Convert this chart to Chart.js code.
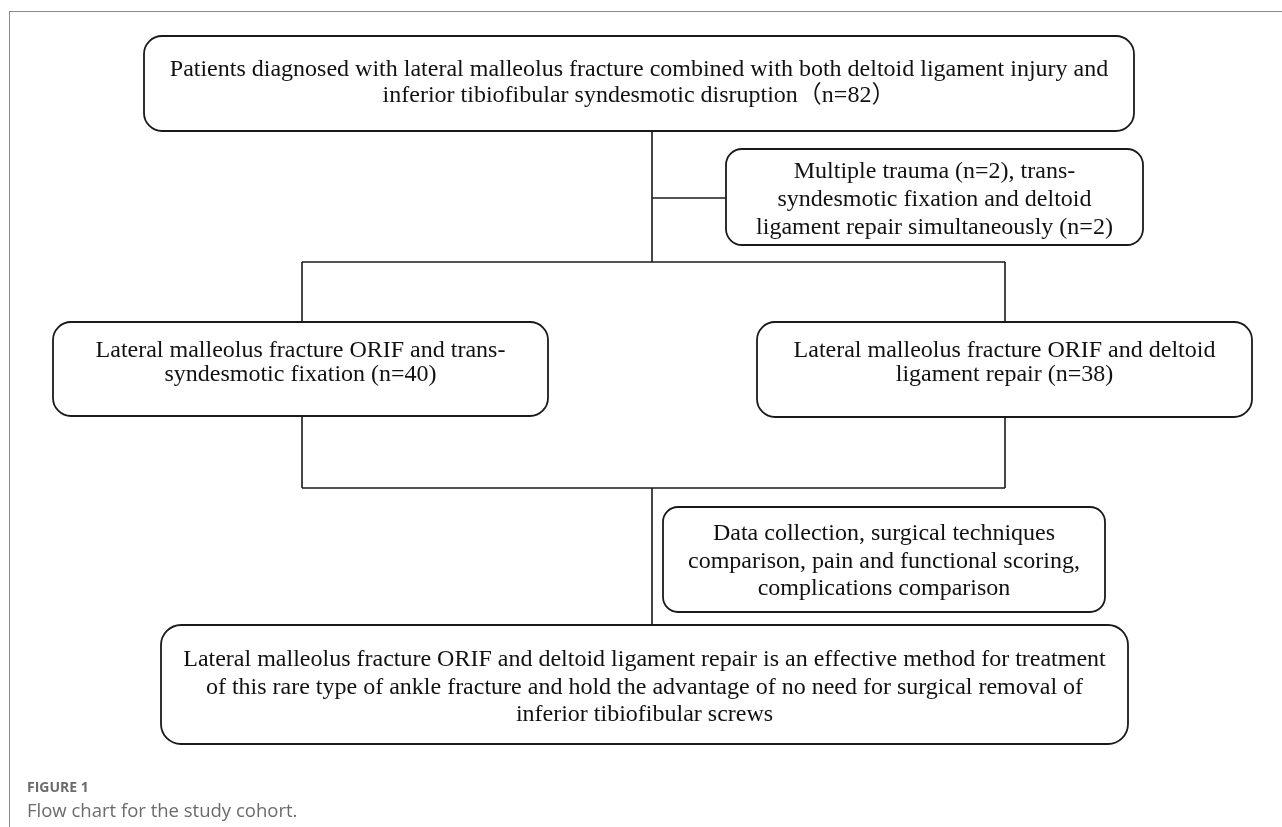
<!DOCTYPE html>
<html>
<head>
<meta charset="utf-8">
<title>Flow chart for the study cohort</title>
<script src="https://cdn.jsdelivr.net/npm/chart.js@4"></script>
<style>
    body { margin: 0; background: #fff; }
    #wrap { position: relative; width: 1282px; height: 827px; overflow: hidden; }
    #frame {
        position: absolute; left: 9px; top: 11px; right: 0; bottom: 0;
        border-top: 1px solid #8a8a8a; border-left: 1px solid #8a8a8a;
    }
    canvas { position: absolute; left: 0; top: 0; }
    .caption { position: absolute; left: 27px; color: #6b6b6b; font-family: "Open Sans", sans-serif; white-space: nowrap; }
    #figno { top: 777px; font-size: 14px; font-weight: 700; }
    #figtitle { top: 797px; font-size: 18.5px; }
</style>
</head>
<body>
<div id="wrap">
    <div id="frame"></div>
    <canvas id="flow" width="1282" height="827"></canvas>
    <div class="caption" id="figno">FIGURE 1</div>
    <div class="caption" id="figtitle">Flow chart for the study cohort.</div>
</div>
<script>
// ============================================
// DATA - cohort counts and box texts
// ============================================
const totalPatients = 82;
const excludedCounts = [2, 2];       // multiple trauma, both procedures
const groupCounts = [40, 38];        // trans-syndesmotic fixation, deltoid repair

const boxTexts = [
    ["Patients diagnosed with lateral malleolus fracture combined with both deltoid ligament injury and",
     "inferior tibiofibular syndesmotic disruption\uFF08n=" + totalPatients + "\uFF09"],
    ["Multiple trauma (n=" + excludedCounts[0] + "), trans-",
     "syndesmotic fixation and deltoid",
     "ligament repair simultaneously (n=" + excludedCounts[1] + ")"],
    ["Lateral malleolus fracture ORIF and trans-",
     "syndesmotic fixation (n=" + groupCounts[0] + ")"],
    ["Lateral malleolus fracture ORIF and deltoid",
     "ligament repair (n=" + groupCounts[1] + ")"],
    ["Data collection, surgical techniques",
     "comparison, pain and functional scoring,",
     "complications comparison"],
    ["Lateral malleolus fracture ORIF and deltoid ligament repair is an effective method for treatment",
     "of this rare type of ankle fracture and hold the advantage of no need for surgical removal of",
     "inferior tibiofibular screws"]
];

// ============================================
// LAYOUT - box geometry and connectors (page units)
// ============================================
const boxLayout = [
    { x0: 144, x1: 1134, y0: 36,  y1: 131, r: 18, first: 76,  gap: 25.5 },
    { x0: 726, x1: 1143, y0: 149, y1: 245, r: 16, first: 178, gap: 28 },
    { x0: 53,  x1: 548,  y0: 322, y1: 416, r: 18, first: 357, gap: 24 },
    { x0: 757, x1: 1252, y0: 322, y1: 417, r: 18, first: 357, gap: 24 },
    { x0: 663, x1: 1105, y0: 507, y1: 612, r: 15, first: 540, gap: 27.5 },
    { x0: 161, x1: 1128, y0: 625, y1: 744, r: 20, first: 666, gap: 27.5 }
];

const connectors = [
    [[652, 131], [652, 262]],
    [[652, 198], [726, 198]],
    [[302, 262], [1005, 262]],
    [[302, 262], [302, 322]],
    [[1005, 262], [1005, 322]],
    [[302, 416], [302, 488]],
    [[1005, 417], [1005, 488]],
    [[302, 488], [1005, 488]],
    [[652, 488], [652, 625]]
];

const INK = '#1a1a1a';
const TEXT_FONT = "24px 'Liberation Serif', 'Times New Roman', 'Noto Sans CJK SC', serif";

/**
 * Rounded boxes and their centred text, placed through the chart scales
 */
const boxPlugin = {
    id: 'flowBoxes',
    afterDatasetsDraw(chart) {
        const ctx = chart.ctx;
        const sx = chart.scales.x;
        const sy = chart.scales.y;

        boxLayout.forEach((b, i) => {
            const left = sx.getPixelForValue(b.x0);
            const right = sx.getPixelForValue(b.x1);
            const top = sy.getPixelForValue(b.y0);
            const bottom = sy.getPixelForValue(b.y1);

            ctx.save();
            ctx.beginPath();
            ctx.roundRect(left, top, right - left, bottom - top, b.r);
            ctx.fillStyle = '#fff';
            ctx.fill();
            ctx.lineWidth = 1.8;
            ctx.strokeStyle = INK;
            ctx.stroke();

            ctx.fillStyle = '#111';
            ctx.font = TEXT_FONT;
            ctx.textAlign = 'center';
            ctx.textBaseline = 'alphabetic';
            const cx = (left + right) / 2;
            boxTexts[i].forEach((line, k) => {
                ctx.fillText(line, cx, sy.getPixelForValue(b.first + k * b.gap));
            });
            ctx.restore();
        });
    }
};

// Each connector segment is its own line dataset
const lineSets = connectors.map(seg => ({
    data: seg.map(p => ({ x: p[0], y: p[1] })),
    showLine: true,
    borderColor: INK,
    borderWidth: 1.6,
    pointRadius: 0,
    fill: false
}));

new Chart(document.getElementById('flow'), {
    type: 'scatter',
    data: { datasets: lineSets },
    options: {
        responsive: false,
        animation: false,
        devicePixelRatio: 1,
        layout: { padding: 0 },
        plugins: { legend: { display: false }, tooltip: { enabled: false } },
        scales: {
            x: { type: 'linear', min: 0, max: 1282, display: false },
            y: { type: 'linear', min: 0, max: 827, reverse: true, display: false }
        }
    },
    plugins: [boxPlugin]
});
</script>
</body>
</html>
